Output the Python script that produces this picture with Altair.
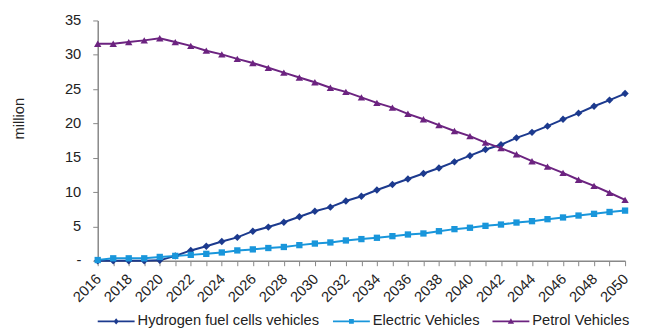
import altair as alt
import pandas as pd

years = list(range(2016, 2051))
hydrogen = [0.0, 0.0, 0.0, 0.0, 0.05, 0.7, 1.5, 2.1, 2.8, 3.4,
            4.3, 4.9, 5.6, 6.4, 7.2, 7.8, 8.7, 9.4, 10.3, 11.1,
            11.9, 12.7, 13.5, 14.4, 15.3, 16.2, 16.9, 17.9, 18.7, 19.6,
            20.6, 21.5, 22.5, 23.4, 24.35]
electric = [0.1, 0.35, 0.35, 0.35, 0.55, 0.7, 0.85, 1.0, 1.2, 1.5,
            1.65, 1.85, 2.0, 2.27, 2.5, 2.66, 2.95, 3.15, 3.34, 3.58,
            3.82, 3.97, 4.3, 4.6, 4.8, 5.08, 5.27, 5.56, 5.76, 6.05,
            6.3, 6.58, 6.83, 7.1, 7.3]
petrol = [31.6, 31.6, 31.85, 32.1, 32.4, 31.85, 31.3, 30.6, 30.06, 29.4,
          28.8, 28.1, 27.4, 26.7, 26.0, 25.2, 24.6, 23.8, 23.0, 22.3,
          21.4, 20.6, 19.75, 18.9, 18.15, 17.2, 16.4, 15.5, 14.5, 13.7,
          12.8, 11.8, 10.9, 9.9, 8.86]

series = ["Hydrogen fuel cells vehicles", "Electric Vehicles", "Petrol Vehicles"]
colors = ["#1c3a8e", "#1996db", "#6c2380"]
marker_shapes = ["diamond", "square", "triangle-up"]
marker_sizes = [55, 40, 55]
legend_paths = [
    "M-1,-0.05H1V0.05H-1Z M0,-0.17L0.14,0L0,0.17L-0.14,0Z",
    "M-1,-0.05H1V0.05H-1Z M-0.13,-0.13H0.13V0.13H-0.13Z",
    "M-1,-0.05H1V0.05H-1Z M0,-0.17L0.17,0.12H-0.17Z",
]
y_ticks = [0, 5, 10, 15, 20, 25, 30, 35]

rows = []
for name, vals in zip(series, [hydrogen, electric, petrol]):
    for yr, v in zip(years, vals):
        rows.append({"year": yr, "value": v, "series": name})
df = pd.DataFrame(rows)

FONT = "Liberation Sans"
FS = 14.7
LFS = 14.7

x_enc = alt.X(
    "year:Q",
    scale=alt.Scale(domain=[2016, 2050], nice=False, zero=False),
    axis=alt.Axis(
        values=years, format="d",
        labelExpr="datum.value % 2 == 0 ? datum.label : ''",
        labelAngle=-45, labelAlign="right", labelBaseline="middle",
        labelPadding=11, labelOffset=1, tickSize=5, labelFontSize=FS, labelFont=FONT,
        labelColor="#222222", domainColor="#888888", tickColor="#888888",
        domainWidth=1.5, grid=False, labelOverlap=False, labelFlush=False,
    ),
    title=None,
)
y_enc = alt.Y(
    "value:Q",
    scale=alt.Scale(domain=[0, 35], nice=False),
    axis=alt.Axis(
        values=y_ticks,
        labelExpr="datum.value == 0 ? '-\u00a0\u00a0\u00a0' : datum.label",
        tickSize=5, labelPadding=12, labelFontSize=FS, labelFont=FONT,
        labelColor="#222222", domainColor="#888888", tickColor="#888888",
        domainWidth=1.5, grid=False, title="million", titleFont=FONT, titleFontSize=FS,
        titleFontWeight="normal", titleColor="#222222", titleAngle=-90,
        titleX=-78, titleY=98, titleAlign="center", titleBaseline="middle",
    ),
)

base = alt.Chart(df)
layers = []
for name, col in zip(series, colors):
    layers.append(
        base.transform_filter(alt.datum.series == name)
        .mark_line(strokeWidth=2, color=col)
        .encode(x=x_enc, y=y_enc)
    )
for name, col, shp, sz in zip(series, colors, marker_shapes, marker_sizes):
    layers.append(
        base.transform_filter(alt.datum.series == name)
        .mark_point(shape=shp, filled=True, size=sz, opacity=1, color=col)
        .encode(x=x_enc, y=y_enc)
    )

leg = alt.Legend(
    title=None, orient="none", legendX=0, legendY=283, direction="horizontal",
    columnPadding=13, labelOffset=3, labelFontSize=LFS, labelFont=FONT,
    labelColor="#222222", symbolSize=1369, symbolStrokeWidth=0, labelLimit=0,
    symbolOpacity=1,
)
legend_layer = base.mark_point(filled=True, opacity=0).encode(
    x=x_enc, y=y_enc,
    color=alt.Color("series:N", scale=alt.Scale(domain=series, range=colors), legend=leg),
    shape=alt.Shape("series:N", scale=alt.Scale(domain=series, range=legend_paths), legend=leg),
)
layers.append(legend_layer)

chart = alt.layer(*layers).properties(
    width=529, height=241,
    autosize=alt.AutoSizeParams(type="none"),
    padding={"left": 90, "top": 12, "right": 21, "bottom": 68},
).configure_view(stroke=None)

chart.save("out.html", embed_options={"renderer": "svg", "actions": False})
